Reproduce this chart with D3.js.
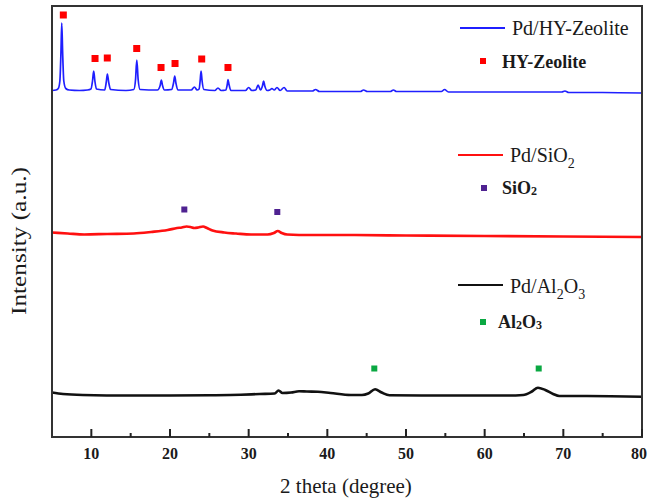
<!DOCTYPE html>
<html>
<head>
<meta charset="utf-8">
<script src="https://cdn.jsdelivr.net/npm/d3@7"></script>
<style>
  body { margin: 0; background: #fff; }
  svg { display: block; }
  text { font-family: "Liberation Serif", "Times New Roman", serif; fill: #1a1a1a; }
</style>
</head>
<body>
<svg id="chart"></svg>
<script>
// XRD traces: [2 theta, intensity (a.u., stacked)]
const pdHY = [
  [5.0, 693], [5.5, 694], [5.8, 697], [6.0, 712], [6.14, 770], [6.24, 828], [6.35, 770], [6.5, 712],
  [6.75, 697], [7.2, 694], [8.5, 693], [9.5, 694], [9.95, 696], [10.15, 712], [10.3, 732],
  [10.45, 712], [10.65, 696], [11.7, 694], [11.9, 710], [12.04, 726], [12.2, 710], [12.45, 695],
  [14.4, 693], [15.4, 695], [15.62, 715], [15.78, 754], [15.95, 715], [16.2, 695], [18.4, 694],
  [18.75, 703], [18.9, 714], [19.05, 703], [19.3, 694], [20.2, 695], [20.45, 708], [20.6, 722],
  [20.75, 708], [21.0, 694], [22.7, 694], [23.1, 700], [23.45, 694], [23.7, 696], [23.83, 712],
  [23.95, 732], [24.08, 712], [24.3, 695], [25.7, 693], [26.1, 698], [26.5, 693], [27.1, 694],
  [27.28, 705], [27.38, 715], [27.5, 705], [27.75, 693], [29.6, 693], [30.0, 699], [30.4, 693],
  [30.9, 694], [31.2, 704], [31.5, 694], [31.75, 702], [31.9, 712], [32.05, 702], [32.35, 693],
  [32.7, 694], [32.95, 697], [33.25, 694], [33.6, 699], [34.0, 693], [34.5, 699], [34.9, 692],
  [36.4, 692], [38.1, 692], [38.5, 695], [39.0, 691], [42.0, 691], [44.2, 691], [44.6, 694],
  [45.1, 691], [47.0, 691], [48.0, 691], [48.4, 694], [48.8, 691], [52.0, 691], [54.5, 691],
  [54.9, 695], [55.4, 690], [60.0, 690], [65.0, 690], [69.8, 690], [70.2, 692], [70.7, 689],
  [75.0, 689], [80.0, 688]
];
const pdSiO2 = [
  [5.0, 409], [7.0, 407], [9.1, 405], [12.0, 406], [15.4, 407], [17.6, 410], [19.7, 414],
  [20.9, 418], [21.5, 419], [22.1, 421], [22.6, 420], [23.1, 418], [23.6, 419], [24.2, 421],
  [24.7, 418], [25.4, 413], [26.9, 409], [28.4, 407], [30.3, 405], [32.4, 405], [33.2, 408],
  [33.7, 412], [34.2, 408], [34.9, 405], [37.9, 404], [43.0, 404], [50.0, 403], [60.0, 402],
  [70.0, 401], [80.0, 400]
];
const pdAl2O3 = [
  [5.0, 89], [6.4, 86], [8.9, 84], [15.0, 83], [20.0, 83], [25.0, 83.5], [29.0, 84.5],
  [31.4, 86], [33.3, 87], [33.8, 93], [34.3, 88], [35.4, 89], [36.4, 91.5], [37.4, 91],
  [38.8, 90.6], [40.4, 88], [43.0, 84], [44.4, 84], [45.2, 87], [46.07, 95.4], [46.9, 89],
  [47.9, 83.5], [52.0, 83], [58.0, 83], [63.0, 83], [64.9, 84], [66.0, 91], [66.77, 98.6],
  [67.7, 94], [68.7, 86], [69.5, 82], [72.0, 82], [76.0, 81.5], [80.0, 80.6]
];

// phase markers: [2 theta, intensity]
const hyMarks = [[6.44, 844], [10.47, 757], [12.03, 758], [15.77, 777], [18.86, 739], [20.64, 747], [24.03, 756], [27.37, 739]];
const siMarks = [[21.82, 455], [33.64, 450]];
const alMarks = [[45.97, 137], [66.87, 137]];

const majorTicks = [10, 20, 30, 40, 50, 60, 70, 80];
const minorTicks = [15, 25, 35, 45, 55, 65, 75];

const W = 648, H = 499;
const m = { left: 52, right: 6, top: 6, bottom: 62 };

const svg = d3.select("#chart").attr("width", W).attr("height", H);

const x = d3.scaleLinear().domain([5, 80]).range([m.left, W - m.right]);
const y = d3.scaleLinear().domain([0, 862]).range([H - m.bottom, m.top]);

const line = d3.line().x(d => x(d[0])).y(d => y(d[1])).curve(d3.curveMonotoneX);

const series = [
  { data: pdHY, color: "#1f1fff", width: 1.7 },
  { data: pdSiO2, color: "#ff1010", width: 2.7 },
  { data: pdAl2O3, color: "#111111", width: 2.6 }
];

svg.append("g")
  .selectAll("path")
  .data(series)
  .join("path")
  .attr("d", s => line(s.data))
  .attr("fill", "none")
  .attr("stroke", s => s.color)
  .attr("stroke-width", s => s.width)
  .attr("stroke-linejoin", "round");

// markers
const markSets = [
  { data: hyMarks, color: "#ff0000", size: 7 },
  { data: siMarks, color: "#4f2291", size: 6 },
  { data: alMarks, color: "#0aa842", size: 6 }
];
markSets.forEach(ms => {
  svg.append("g")
    .selectAll("rect")
    .data(ms.data)
    .join("rect")
    .attr("x", d => x(d[0]) - ms.size / 2)
    .attr("y", d => y(d[1]) - ms.size / 2)
    .attr("width", ms.size)
    .attr("height", ms.size)
    .attr("fill", ms.color);
});

// frame
svg.append("rect")
  .attr("x", x(5)).attr("y", y(862))
  .attr("width", x(80) - x(5)).attr("height", y(0) - y(862))
  .attr("fill", "none").attr("stroke", "#333").attr("stroke-width", 2);

// bottom ticks (inward)
const axis = svg.append("g").attr("transform", `translate(0,${y(0)})`);
axis.selectAll("line.major").data(majorTicks).join("line")
  .attr("class", "major")
  .attr("x1", d => x(d)).attr("x2", d => x(d))
  .attr("y1", 0).attr("y2", -8)
  .attr("stroke", "#222").attr("stroke-width", 2);
axis.selectAll("line.minor").data(minorTicks).join("line")
  .attr("class", "minor")
  .attr("x1", d => x(d)).attr("x2", d => x(d))
  .attr("y1", 0).attr("y2", -4)
  .attr("stroke", "#222").attr("stroke-width", 2);
axis.selectAll("text").data(majorTicks).join("text")
  .attr("x", d => d === 80 ? x(d) - 3 : x(d)).attr("y", 22)
  .attr("text-anchor", "middle")
  .attr("font-size", 16).attr("font-weight", "bold")
  .text(d => d);

svg.append("text")
  .attr("x", 346).attr("y", 493)
  .attr("text-anchor", "middle")
  .attr("font-size", 21)
  .text("2 theta (degree)");

svg.append("text")
  .attr("transform", "translate(26,241) rotate(-90)")
  .attr("text-anchor", "middle")
  .attr("font-size", 20)
  .attr("textLength", 148)
  .attr("lengthAdjust", "spacingAndGlyphs")
  .text("Intensity (a.u.)");

// legends
function legendLine(yy, color, x1) {
  svg.append("line")
    .attr("x1", x1).attr("x2", x1 + 45).attr("y1", yy).attr("y2", yy)
    .attr("stroke", color).attr("stroke-width", 2);
}

legendLine(28, "#1f1fff", 460);
svg.append("text").attr("x", 512).attr("y", 35).attr("font-size", 20).text("Pd/HY-Zeolite");
svg.append("rect").attr("x", 480).attr("y", 58).attr("width", 6).attr("height", 6).attr("fill", "#ff0000");
svg.append("text").attr("x", 502).attr("y", 68).attr("font-size", 18).attr("font-weight", "bold").text("HY-Zeolite");

legendLine(155, "#ff1010", 458);
const t2 = svg.append("text").attr("x", 510).attr("y", 162).attr("font-size", 20);
t2.append("tspan").text("Pd/SiO");
t2.append("tspan").attr("font-size", 14).attr("dy", 6).text("2");
svg.append("rect").attr("x", 481).attr("y", 185).attr("width", 6).attr("height", 6).attr("fill", "#4f2291");
const t2b = svg.append("text").attr("x", 502).attr("y", 194).attr("font-size", 18).attr("font-weight", "bold");
t2b.append("tspan").text("SiO");
t2b.append("tspan").attr("font-size", 12).attr("dy", 1).text("2");

legendLine(285, "#111111", 458);
const t3 = svg.append("text").attr("x", 510).attr("y", 293).attr("font-size", 20);
t3.append("tspan").text("Pd/Al");
t3.append("tspan").attr("font-size", 14).attr("dy", 6).text("2");
t3.append("tspan").attr("dy", -6).text("O");
t3.append("tspan").attr("font-size", 14).attr("dy", 6).text("3");
svg.append("rect").attr("x", 480).attr("y", 319).attr("width", 6).attr("height", 6).attr("fill", "#0aa842");
const t3b = svg.append("text").attr("x", 498).attr("y", 328).attr("font-size", 18).attr("font-weight", "bold");
t3b.append("tspan").text("Al");
t3b.append("tspan").attr("font-size", 12).attr("dy", 1).text("2");
t3b.append("tspan").attr("font-size", 18).attr("dy", -1).text("O");
t3b.append("tspan").attr("font-size", 12).attr("dy", 1).text("3");
</script>
</body>
</html>
